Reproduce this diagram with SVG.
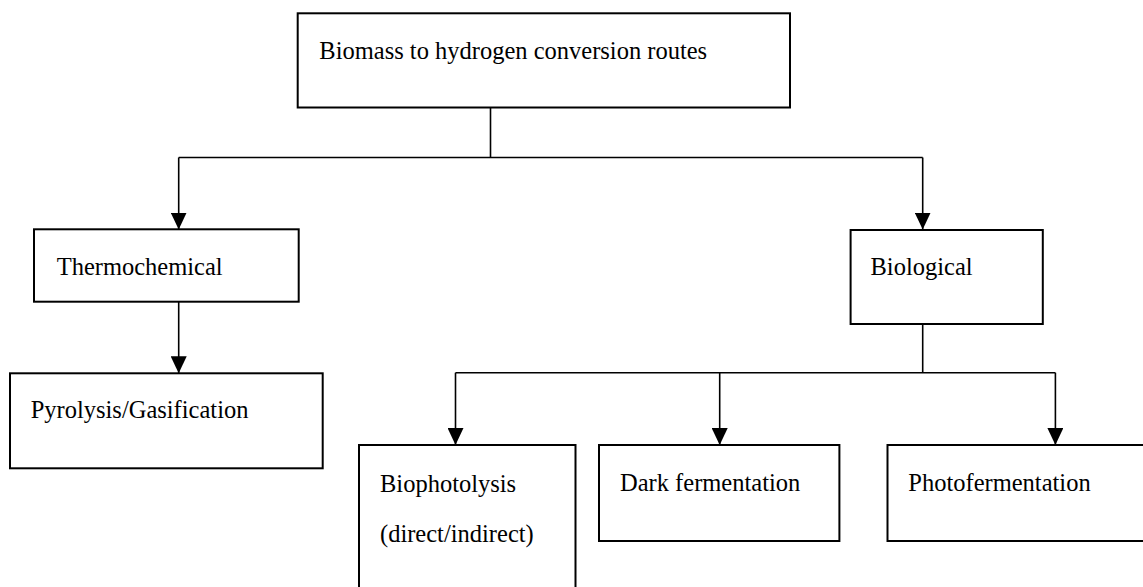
<svg xmlns="http://www.w3.org/2000/svg" width="1143" height="587" viewBox="0 0 1143 587">
  <style>
    .box { fill: #ffffff; stroke: #000000; stroke-width: 2; }
    .conn { fill: none; stroke: #000000; stroke-width: 1.6; }
  </style>
  <defs>
    <marker id="arrow" viewBox="0 0 17 16" refX="17" refY="8" markerWidth="17" markerHeight="16" markerUnits="userSpaceOnUse" orient="auto">
      <path d="M0,0 L17,8 L0,16 z" fill="#000000"/>
    </marker>
  </defs>
  <rect width="1143" height="587" fill="#ffffff"/>

  <g id="connectors">
    <path class="conn" d="M490.5,107.5 V157.5"/>
    <path class="conn" d="M178.7,157.5 H922.7"/>
    <path class="conn" d="M178.7,157.5 V229.5" marker-end="url(#arrow)"/>
    <path class="conn" d="M922.7,157.5 V229.5" marker-end="url(#arrow)"/>
    <path class="conn" d="M178.7,301.7 V373.3" marker-end="url(#arrow)"/>
    <path class="conn" d="M922.7,324 V372.7"/>
    <path class="conn" d="M455.5,372.7 H1055.4"/>
    <path class="conn" d="M455.5,372.7 V445" marker-end="url(#arrow)"/>
    <path class="conn" d="M719.7,372.7 V445" marker-end="url(#arrow)"/>
    <path class="conn" d="M1055.4,372.7 V445" marker-end="url(#arrow)"/>
  </g>

  <g font-family="Liberation Serif, DejaVu Serif, serif" font-size="24.5" fill="#000000">
  <g id="node-root">
    <rect class="box" x="297.7" y="13.3" width="492.3" height="94.2"/>
    <text x="319.3" y="59.3">Biomass to hydrogen conversion routes</text>
  </g>

  <g id="node-thermochemical">
    <rect class="box" x="34" y="229.3" width="264.7" height="72.4"/>
    <text x="56.7" y="275">Thermochemical</text>
  </g>

  <g id="node-biological">
    <rect class="box" x="850.6" y="230" width="192.2" height="94"/>
    <text x="870.5" y="275">Biological</text>
  </g>

  <g id="node-pyrolysis">
    <rect class="box" x="10" y="373.3" width="312.7" height="95"/>
    <text x="30.7" y="418.3">Pyrolysis/Gasification</text>
  </g>

  <g id="node-biophotolysis">
    <rect class="box" x="359" y="445" width="216.5" height="150"/>
    <text x="380" y="491.5">Biophotolysis</text>
    <text x="380" y="541.5">(direct/indirect)</text>
  </g>

  <g id="node-dark-fermentation">
    <rect class="box" x="599" y="445" width="240.4" height="96"/>
    <text x="620" y="491">Dark fermentation</text>
  </g>

  <g id="node-photofermentation">
    <rect class="box" x="887.5" y="445" width="270" height="96"/>
    <text x="908.3" y="491">Photofermentation</text>
  </g>
  </g>
</svg>
